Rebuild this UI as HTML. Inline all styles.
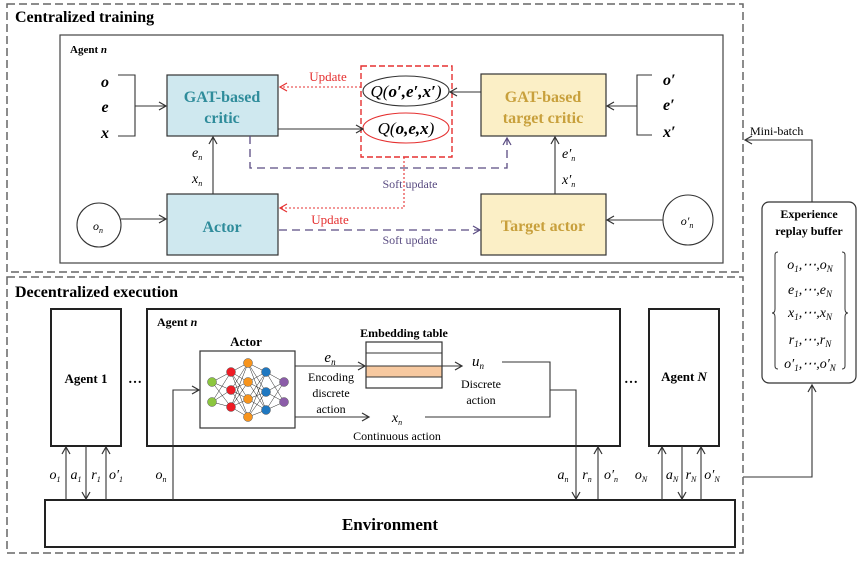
<!DOCTYPE html>
<html><head><meta charset="utf-8"><style>
html,body{margin:0;padding:0;background:#fff}
svg{display:block}
text{font-family:"Liberation Serif",serif}
.b{font-weight:bold}
.i{font-style:italic}
</style></head><body>
<svg width="865" height="561" viewBox="0 0 865 561" xmlns="http://www.w3.org/2000/svg">
<defs>
<marker id="ar" markerWidth="10" markerHeight="10" refX="8" refY="5" orient="auto" markerUnits="userSpaceOnUse"><path d="M1,1 L8,5 L1,9" fill="none" stroke="#333" stroke-width="1.2"/></marker>
<marker id="arr" markerWidth="10" markerHeight="10" refX="8" refY="5" orient="auto" markerUnits="userSpaceOnUse"><path d="M1,1 L8,5 L1,9" fill="none" stroke="#e53030" stroke-width="1.2"/></marker>
<marker id="arp" markerWidth="10" markerHeight="10" refX="8" refY="5" orient="auto" markerUnits="userSpaceOnUse"><path d="M1,1 L8,5 L1,9" fill="none" stroke="#5a4c82" stroke-width="1.2"/></marker>
</defs>
<!-- Top -->
<rect x="7" y="4" width="736" height="268" fill="none" stroke="#666" stroke-width="1.5" stroke-dasharray="8,4"/>
<text x="15" y="22" class="b" font-size="16">Centralized training</text>
<rect x="60" y="35" width="663" height="228" fill="none" stroke="#444" stroke-width="1.2"/>
<text x="70" y="53" class="b" font-size="11">Agent <tspan class="i">n</tspan></text>

<text x="105" y="87" class="b i" font-size="16" text-anchor="middle">o</text>
<text x="105" y="112" class="b i" font-size="16" text-anchor="middle">e</text>
<text x="105" y="138" class="b i" font-size="16" text-anchor="middle">x</text>
<path d="M118,75 H135 V136 H118 M135,106 H166" fill="none" stroke="#333" stroke-width="1.1" marker-end="url(#ar)"/>

<rect x="167" y="75" width="111" height="61" fill="#cfe8ef" stroke="#333" stroke-width="1.2"/>
<text x="222" y="102" class="b" font-size="16" fill="#2f8c9b" text-anchor="middle">GAT-based</text>
<text x="222" y="123" class="b" font-size="16" fill="#2f8c9b" text-anchor="middle">critic</text>
<rect x="167" y="194" width="111" height="61" fill="#cfe8ef" stroke="#333" stroke-width="1.2"/>
<text x="222" y="232" class="b" font-size="16" fill="#2f8c9b" text-anchor="middle">Actor</text>

<circle cx="99" cy="225" r="22" fill="#fff" stroke="#333" stroke-width="1.1"/>
<text x="98" y="230" class="i" font-size="12" text-anchor="middle">o<tspan font-size="8" dy="3">n</tspan></text>
<line x1="121" y1="219" x2="166" y2="219" stroke="#333" stroke-width="1.1" marker-end="url(#ar)"/>
<line x1="213" y1="194" x2="213" y2="137" stroke="#333" stroke-width="1.1" marker-end="url(#ar)"/>
<text x="192" y="157" class="i" font-size="14">e<tspan font-size="8" dy="3">n</tspan></text>
<text x="192" y="183" class="i" font-size="14">x<tspan font-size="8" dy="3">n</tspan></text>

<rect x="361" y="66" width="91" height="91" fill="none" stroke="#e53030" stroke-width="1.4" stroke-dasharray="6,3"/>
<ellipse cx="406" cy="91" rx="43" ry="15" fill="#fff" stroke="#333" stroke-width="1.1"/>
<text x="406" y="97" font-size="17" text-anchor="middle" class="i">Q(<tspan class="b">o′,e′,x′</tspan>)</text>
<ellipse cx="406" cy="128" rx="43" ry="15" fill="#fff" stroke="#e53030" stroke-width="1.1"/>
<text x="406" y="134" font-size="17" text-anchor="middle" class="i">Q(<tspan class="b">o,e,x</tspan>)</text>
<line x1="278" y1="129" x2="363" y2="129" stroke="#333" stroke-width="1.1" marker-end="url(#ar)"/>
<line x1="481" y1="92" x2="450" y2="92" stroke="#333" stroke-width="1.1" marker-end="url(#ar)"/>
<line x1="361" y1="87" x2="280" y2="87" stroke="#e53030" stroke-width="1.1" stroke-dasharray="2,2" marker-end="url(#arr)"/>
<text x="328" y="81" font-size="13" fill="#e53030" text-anchor="middle">Update</text>
<path d="M250,136 V168 H507 V138" fill="none" stroke="#5a4c82" stroke-width="1.3" stroke-dasharray="8,5" marker-end="url(#arp)"/>
<path d="M404,157 V208 H280" fill="none" stroke="#e53030" stroke-width="1.1" stroke-dasharray="2,2" marker-end="url(#arr)"/>
<text x="410" y="188" font-size="12" fill="#5a4c82" text-anchor="middle">Soft update</text>
<text x="330" y="224" font-size="13" fill="#e53030" text-anchor="middle">Update</text>
<line x1="279" y1="230" x2="480" y2="230" stroke="#5a4c82" stroke-width="1.3" stroke-dasharray="8,5" marker-end="url(#arp)"/>
<text x="410" y="244" font-size="12" fill="#5a4c82" text-anchor="middle">Soft update</text>

<rect x="481" y="74" width="125" height="62" fill="#fbefc6" stroke="#333" stroke-width="1.2"/>
<text x="543" y="102" class="b" font-size="16" fill="#c8a03c" text-anchor="middle">GAT-based</text>
<text x="543" y="123" class="b" font-size="16" fill="#c8a03c" text-anchor="middle">target critic</text>
<rect x="481" y="194" width="125" height="61" fill="#fbefc6" stroke="#333" stroke-width="1.2"/>
<text x="543" y="231" class="b" font-size="16" fill="#c8a03c" text-anchor="middle">Target actor</text>
<line x1="555" y1="194" x2="555" y2="137" stroke="#333" stroke-width="1.1" marker-end="url(#ar)"/>
<text x="562" y="158" class="i" font-size="14">e′<tspan font-size="8" dy="3">n</tspan></text>
<text x="562" y="184" class="i" font-size="14">x′<tspan font-size="8" dy="3">n</tspan></text>
<text x="663" y="85" class="b i" font-size="16">o′</text>
<text x="663" y="110" class="b i" font-size="16">e′</text>
<text x="663" y="137" class="b i" font-size="16">x′</text>
<path d="M652,75 H637 V135 H652 M637,106 H607" fill="none" stroke="#333" stroke-width="1.1" marker-end="url(#ar)"/>
<circle cx="688" cy="220" r="25" fill="#fff" stroke="#333" stroke-width="1.1"/>
<text x="687" y="225" class="i" font-size="12" text-anchor="middle">o′<tspan font-size="8" dy="3">n</tspan></text>
<line x1="663" y1="220" x2="607" y2="220" stroke="#333" stroke-width="1.1" marker-end="url(#ar)"/>

<!-- Buffer -->
<path d="M812,202 V140 H745" fill="none" stroke="#333" stroke-width="1.1" marker-end="url(#ar)"/>
<text x="750" y="135" font-size="12">Mini-batch</text>
<rect x="762" y="202" width="94" height="181" rx="7" fill="#fff" stroke="#333" stroke-width="1.2"/>
<text x="809" y="218" class="b" font-size="12" text-anchor="middle">Experience</text>
<text x="809" y="235" class="b" font-size="12" text-anchor="middle">replay buffer</text>
<path d="M778,252 q-3,0 -3,3 V309 q0,4 -3,4 q3,0 3,4 V366 q0,3 3,3" fill="none" stroke="#333" stroke-width="1"/>
<path d="M842,252 q3,0 3,3 V309 q0,4 3,4 q-3,0 -3,4 V366 q0,3 -3,3" fill="none" stroke="#333" stroke-width="1"/>
<g font-size="14" class="i" text-anchor="middle">
<text x="810" y="269">o<tspan font-size="9" dy="3">1</tspan><tspan dy="-3">,⋯,o</tspan><tspan font-size="9" dy="3">N</tspan></text>
<text x="810" y="294">e<tspan font-size="9" dy="3">1</tspan><tspan dy="-3">,⋯,e</tspan><tspan font-size="9" dy="3">N</tspan></text>
<text x="810" y="317">x<tspan font-size="9" dy="3">1</tspan><tspan dy="-3">,⋯,x</tspan><tspan font-size="9" dy="3">N</tspan></text>
<text x="810" y="344">r<tspan font-size="9" dy="3">1</tspan><tspan dy="-3">,⋯,r</tspan><tspan font-size="9" dy="3">N</tspan></text>
<text x="810" y="368">o′<tspan font-size="9" dy="3">1</tspan><tspan dy="-3">,⋯,o′</tspan><tspan font-size="9" dy="3">N</tspan></text>
</g>
<path d="M743,477 H812 V385" fill="none" stroke="#333" stroke-width="1.1" marker-end="url(#ar)"/>

<!-- Bottom -->
<rect x="7" y="277" width="736" height="276" fill="none" stroke="#666" stroke-width="1.5" stroke-dasharray="8,4"/>
<text x="15" y="297" class="b" font-size="16">Decentralized execution</text>
<rect x="51" y="309" width="70" height="137" fill="none" stroke="#222" stroke-width="2"/>
<text x="86" y="383" class="b" font-size="13" text-anchor="middle">Agent 1</text>
<text x="135" y="383" class="b" font-size="14" text-anchor="middle">…</text>
<rect x="147" y="309" width="473" height="137" fill="none" stroke="#222" stroke-width="2"/>
<text x="157" y="326" class="b" font-size="12">Agent <tspan class="i">n</tspan></text>
<rect x="649" y="309" width="70" height="137" fill="none" stroke="#222" stroke-width="2"/>
<text x="684" y="381" class="b" font-size="13" text-anchor="middle">Agent <tspan class="i">N</tspan></text>
<text x="631" y="383" class="b" font-size="14" text-anchor="middle">…</text>

<text x="246" y="346" class="b" font-size="13" text-anchor="middle">Actor</text>
<rect x="200" y="351" width="95" height="77" fill="#fff" stroke="#333" stroke-width="1.2"/>
<g stroke="#222" stroke-width="0.5">
<path d="M212,382 L231,372 M212,382 L231,390 M212,382 L231,407 M212,402 L231,372 M212,402 L231,390 M212,402 L231,407
M231,372 L248,363 M231,372 L248,382 M231,372 L248,399 M231,372 L248,417 M231,390 L248,363 M231,390 L248,382 M231,390 L248,399 M231,390 L248,417 M231,407 L248,363 M231,407 L248,382 M231,407 L248,399 M231,407 L248,417
M248,363 L266,372 M248,363 L266,392 M248,363 L266,410 M248,382 L266,372 M248,382 L266,392 M248,382 L266,410 M248,399 L266,372 M248,399 L266,392 M248,399 L266,410 M248,417 L266,372 M248,417 L266,392 M248,417 L266,410
M266,372 L284,382 M266,372 L284,402 M266,392 L284,382 M266,392 L284,402 M266,410 L284,382 M266,410 L284,402"/>
</g>
<g stroke="#555" stroke-width="0.5">
<circle cx="212" cy="382" r="4.5" fill="#8cc63f"/><circle cx="212" cy="402" r="4.5" fill="#8cc63f"/>
<circle cx="231" cy="372" r="4.5" fill="#ee1c25"/><circle cx="231" cy="390" r="4.5" fill="#ee1c25"/><circle cx="231" cy="407" r="4.5" fill="#ee1c25"/>
<circle cx="248" cy="363" r="4.5" fill="#f7941d"/><circle cx="248" cy="382" r="4.5" fill="#f7941d"/><circle cx="248" cy="399" r="4.5" fill="#f7941d"/><circle cx="248" cy="417" r="4.5" fill="#f7941d"/>
<circle cx="266" cy="372" r="4.5" fill="#1f78c1"/><circle cx="266" cy="392" r="4.5" fill="#1f78c1"/><circle cx="266" cy="410" r="4.5" fill="#1f78c1"/>
<circle cx="284" cy="382" r="4.5" fill="#8b5ca8"/><circle cx="284" cy="402" r="4.5" fill="#8b5ca8"/>
</g>
<text x="404" y="337" class="b" font-size="12" text-anchor="middle">Embedding table</text>
<rect x="366" y="366" width="76" height="11" fill="#f7c9a0"/>
<rect x="366" y="342" width="76" height="46" fill="none" stroke="#333" stroke-width="1.2"/>
<path d="M366,353 H442 M366,366 H442 M366,377 H442" stroke="#333" stroke-width="1"/>
<line x1="295" y1="366" x2="365" y2="366" stroke="#333" stroke-width="1.1" marker-end="url(#ar)"/>
<text x="330" y="362" class="i" font-size="15" text-anchor="middle">e<tspan font-size="9" dy="3">n</tspan></text>
<text x="331" y="381" font-size="12" text-anchor="middle">Encoding</text>
<text x="331" y="397" font-size="12" text-anchor="middle">discrete</text>
<text x="331" y="413" font-size="12" text-anchor="middle">action</text>
<line x1="295" y1="417" x2="369" y2="417" stroke="#333" stroke-width="1.1" marker-end="url(#ar)"/>
<text x="397" y="422" class="i" font-size="14" text-anchor="middle">x<tspan font-size="8" dy="3">n</tspan></text>
<text x="397" y="440" font-size="12" text-anchor="middle">Continuous action</text>
<line x1="442" y1="366" x2="462" y2="366" stroke="#333" stroke-width="1.1" marker-end="url(#ar)"/>
<text x="478" y="366" class="i" font-size="15" text-anchor="middle">u<tspan font-size="9" dy="3">n</tspan></text>
<text x="481" y="388" font-size="12" text-anchor="middle">Discrete</text>
<text x="481" y="404" font-size="12" text-anchor="middle">action</text>
<path d="M502,362 H550 V417 H425" fill="none" stroke="#333" stroke-width="1.1"/>
<path d="M550,390 H576 V499" fill="none" stroke="#333" stroke-width="1.1" marker-end="url(#ar)"/>
<line x1="598" y1="500" x2="598" y2="447" stroke="#333" stroke-width="1.1" marker-end="url(#ar)"/>

<rect x="45" y="500" width="690" height="47" fill="#fff" stroke="#222" stroke-width="2"/>
<text x="390" y="530" class="b" font-size="17" text-anchor="middle">Environment</text>

<line x1="66" y1="500" x2="66" y2="447" stroke="#333" stroke-width="1.1" marker-end="url(#ar)"/>
<line x1="86" y1="446" x2="86" y2="499" stroke="#333" stroke-width="1.1" marker-end="url(#ar)"/>
<line x1="106" y1="500" x2="106" y2="447" stroke="#333" stroke-width="1.1" marker-end="url(#ar)"/>
<path d="M173,500 V390 H199" fill="none" stroke="#333" stroke-width="1.1" marker-end="url(#ar)"/>
<line x1="662" y1="500" x2="662" y2="447" stroke="#333" stroke-width="1.1" marker-end="url(#ar)"/>
<line x1="682" y1="446" x2="682" y2="499" stroke="#333" stroke-width="1.1" marker-end="url(#ar)"/>
<line x1="701" y1="500" x2="701" y2="447" stroke="#333" stroke-width="1.1" marker-end="url(#ar)"/>
<g class="i" font-size="14" text-anchor="middle">
<text x="55" y="479">o<tspan font-size="8" dy="3">1</tspan></text>
<text x="76" y="479">a<tspan font-size="8" dy="3">1</tspan></text>
<text x="96" y="479">r<tspan font-size="8" dy="3">1</tspan></text>
<text x="116" y="479">o′<tspan font-size="8" dy="3">1</tspan></text>
<text x="161" y="479">o<tspan font-size="8" dy="3">n</tspan></text>
<text x="563" y="479">a<tspan font-size="8" dy="3">n</tspan></text>
<text x="587" y="479">r<tspan font-size="8" dy="3">n</tspan></text>
<text x="611" y="479">o′<tspan font-size="8" dy="3">n</tspan></text>
<text x="641" y="479">o<tspan font-size="8" dy="3">N</tspan></text>
<text x="672" y="479">a<tspan font-size="8" dy="3">N</tspan></text>
<text x="691" y="479">r<tspan font-size="8" dy="3">N</tspan></text>
<text x="712" y="479">o′<tspan font-size="8" dy="3">N</tspan></text>
</g>
</svg>
</body></html>
